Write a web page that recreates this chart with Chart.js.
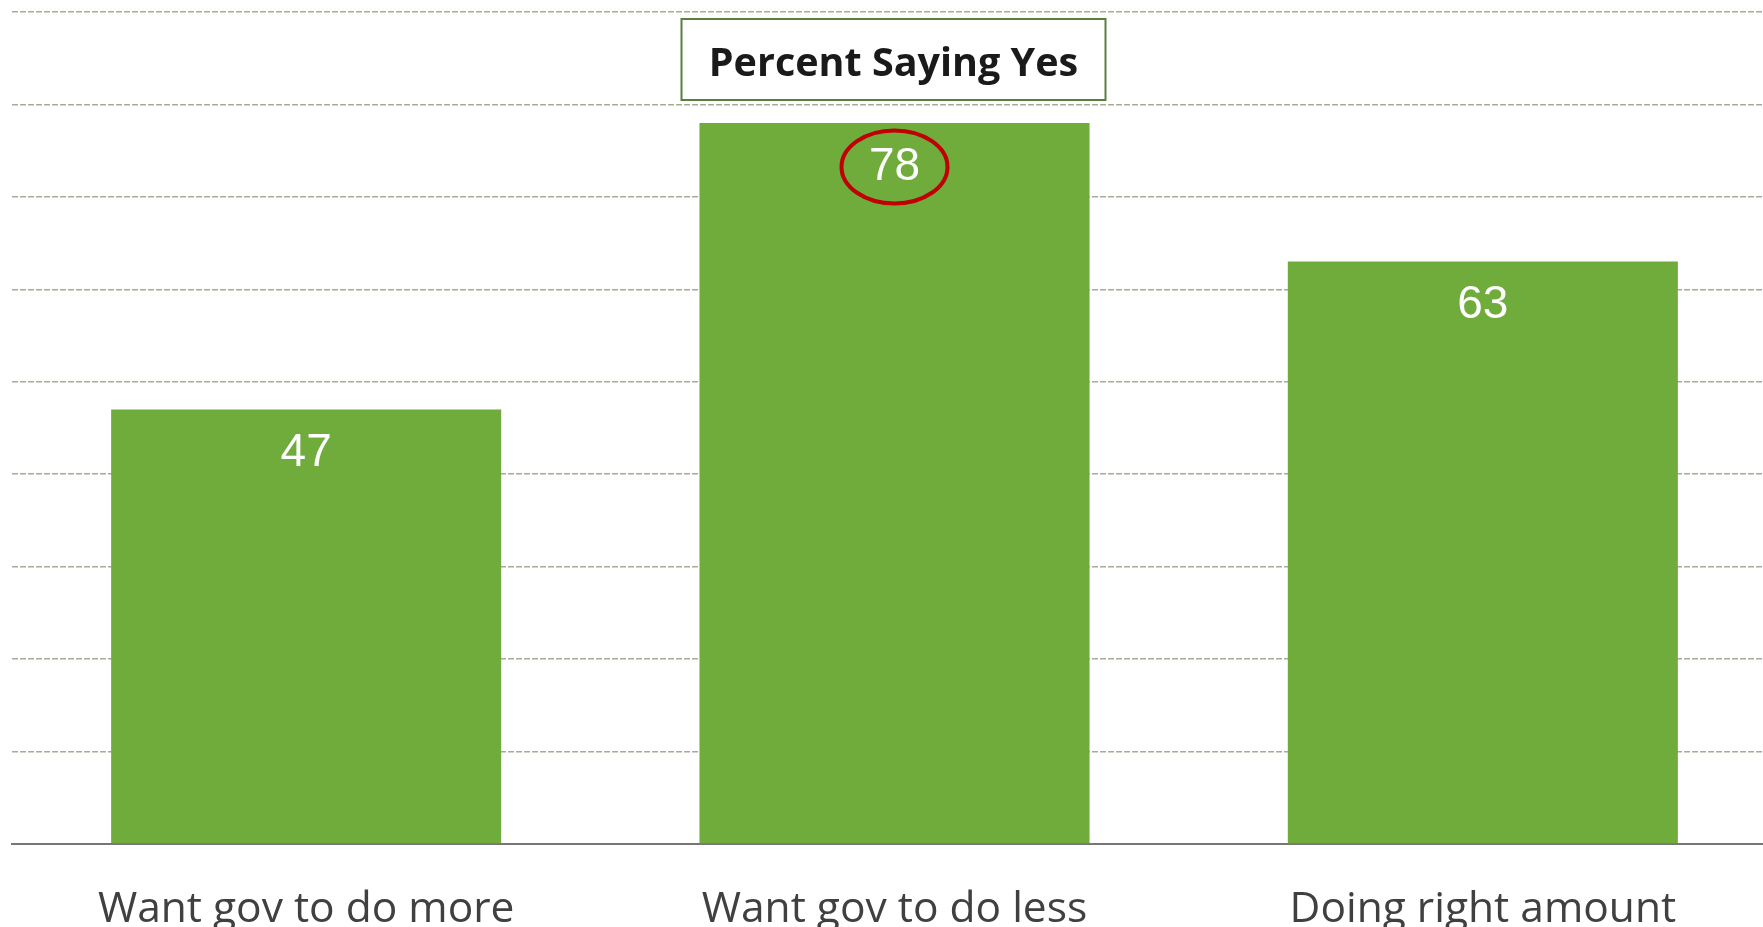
<!DOCTYPE html>
<html>
<head>
<meta charset="utf-8">
<script src="https://cdn.jsdelivr.net/npm/chart.js@4/dist/chart.umd.min.js"></script>
<style>
  html, body { margin: 0; padding: 0; background: #fff; overflow: hidden; }
  #wrap { width: 1763px; height: 927px; overflow: hidden; position: relative; }
  canvas { display: block; }
</style>
</head>
<body>
<div id="wrap"><canvas id="chart" width="1780" height="927"></canvas></div>
<script>
const categories = ['Want gov to do more', 'Want gov to do less', 'Doing right amount'];
const values = [47, 78, 63];
const chartTitle = 'Percent Saying Yes';
const circledIndex = 1;

// white value labels inside the top of each bar, plus the red ring around one of them
const barLabels = {
  id: 'barLabels',
  afterDatasetsDraw(chart) {
    const ctx = chart.ctx;
    const meta = chart.getDatasetMeta(0);
    ctx.save();
    ctx.font = '46px "Liberation Sans", Arial, sans-serif';
    ctx.fillStyle = '#ffffff';
    ctx.textAlign = 'center';
    ctx.textBaseline = 'middle';
    meta.data.forEach((bar, i) => {
      const y = bar.y + 44;
      ctx.fillText(String(values[i]), bar.x, y);
      if (i === circledIndex) {
        ctx.beginPath();
        ctx.ellipse(bar.x, y, 53, 36.5, 0, 0, Math.PI * 2);
        ctx.lineWidth = 4;
        ctx.strokeStyle = '#c00000';
        ctx.stroke();
      }
    });
    ctx.restore();
  }
};

// boxed title sitting between the two top grid lines
const boxedTitle = {
  id: 'boxedTitle',
  afterDraw(chart) {
    const ctx = chart.ctx;
    const a = chart.chartArea;
    const cx = (a.left + a.right) / 2 - 1;
    const w = 424, top = 19, h = 81;
    ctx.save();
    ctx.fillStyle = '#ffffff';
    ctx.fillRect(cx - w / 2, top, w, h);
    ctx.lineWidth = 2;
    ctx.strokeStyle = '#5b7f3c';
    ctx.strokeRect(cx - w / 2, top, w, h);
    ctx.font = 'bold 39.5px "Open Sans", sans-serif';
    ctx.fillStyle = '#1a1a1a';
    ctx.textAlign = 'center';
    ctx.textBaseline = 'alphabetic';
    ctx.fillText(chartTitle, cx, 76);
    ctx.restore();
  }
};

new Chart(document.getElementById('chart').getContext('2d'), {
  type: 'bar',
  data: {
    labels: categories,
    datasets: [{
      data: values,
      backgroundColor: '#6fac3b',
      borderWidth: 0,
      categoryPercentage: 1,
      barPercentage: 0.663
    }]
  },
  options: {
    responsive: false,
    animation: false,
    layout: { padding: { left: 12, right: 3, top: 12, bottom: 0 } },
    plugins: {
      legend: { display: false },
      tooltip: { enabled: false },
      title: { display: false }
    },
    scales: {
      x: {
        grid: { display: false },
        border: { display: true, color: '#767676', width: 2 },
        ticks: {
          color: '#404040',
          font: { size: 42.5, family: '"Open Sans", sans-serif' },
          padding: 32,
          maxRotation: 0
        },
        afterFit(scale) { scale.height = 83; }
      },
      y: {
        min: 0,
        max: 90,
        ticks: { display: false, stepSize: 10 },
        grid: { color: '#a3ae98', lineWidth: 1.5, drawTicks: false },
        border: { display: false, dash: [6, 2] }
      }
    }
  },
  plugins: [barLabels, boxedTitle]
});
</script>
</body>
</html>
